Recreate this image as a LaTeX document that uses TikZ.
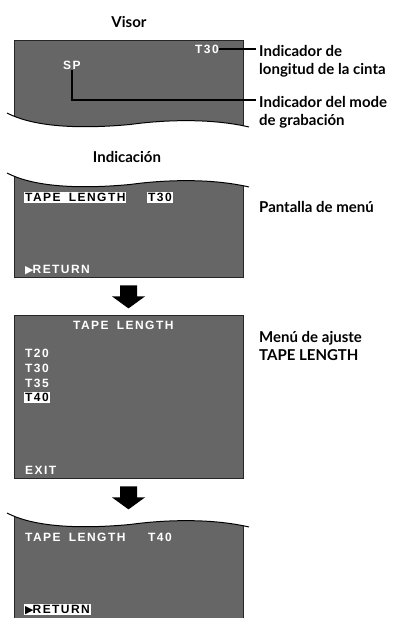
\documentclass[tikz,border=0pt]{standalone}
\usepackage{fontspec}
\setmainfont{Lato}
\newfontfamily\osdfont[LetterSpace=12]{Liberation Sans Bold}
\newfontfamily\symfont{DejaVu Sans}
\definecolor{lcdgray}{RGB}{102,102,102}
% wavy edge of a cut screen, #1 = height of its left end
\newcommand\wavy[1]{(7,#1) .. controls (30,#1+12) and (70,#1+17) .. (130,#1+11.5) .. controls (170,#1+6) and (215,#1+6) .. (249,#1+14)}
\newcommand\tapelen{TAPE\ \hspace{3.5pt}LENGTH}
\newcommand\retmark{{\symfont\fontsize{11}{11}\selectfont▶}\hspace{-1pt}}

\begin{document}
\begin{tikzpicture}[x=1pt,y=-1pt,
    screen/.style={fill=lcdgray,draw=black!85,line width=0.8pt,minimum width=229pt,inner sep=0pt},
    osd/.style={text=white,font=\osdfont\fontsize{12}{12}\selectfont,text height=8.6pt,text depth=0pt,inner sep=0pt,anchor=west},
    osdmark/.style={osd,text=black,fill=white,inner xsep=1pt,inner ysep=1.2pt},
    caption/.style={font=\bfseries\fontsize{15}{18.5}\selectfont,align=left,anchor=north west,inner sep=0pt},
    heading/.style={font=\bfseries\fontsize{15}{15}\selectfont},
    leader/.style={line width=1.3pt},
    waveline/.style={line width=1pt}]
  \useasboundingbox (0,0) rectangle (419,618);

  % screens
  \node[screen,minimum height=90pt] (visor) at (128.5,85) {};
  \node[screen,minimum height=106pt] (menu) at (128.5,224) {};
  \node[screen,minimum height=163pt] (ajuste) at (128.5,396.5) {};
  \node[screen,minimum height=109pt] (final) at (128.5,563.5) {};
  \foreach \w/\e in {113/132, 173/169, 513/508.5}{
    \fill[white] \wavy{\w} -- (250,\e) -- (6,\e) -- cycle;
    \draw[waveline] \wavy{\w};
  }

  % headings
  \node[heading] (visortitle) at (129,21.5) {Visor};
  \node[heading] (indtitle) at (127,157) {Indicación};

  % viewfinder
  \node[osd] (t30v) at (195,49) {T30};
  \node[osd] (spv) at (63,65) {SP};
  \coordinate (lenin) at (256,49);
  \coordinate (modein) at (256,100);
  \draw[leader] (t30v.east) -- (lenin);
  \draw[leader] (spv.south) |- (modein);
  \node[caption] (lenlbl) at (259,45) {Indicador de\\longitud de la cinta};
  \node[caption] (modelbl) at (259,96) {Indicador del mode\\de grabación};

  % menu screen
  \node[osdmark] (menutape) at (24,197.5) {\tapelen};
  \node[osdmark] (menut30) at (147,197.5) {T30};
  \node[osd] (menuret) at (25,269) {\retmark RETURN};
  \node[caption] (menulbl) at (259,201) {Pantalla de menú};

  % setting screen
  \node[osd] (ajustetape) at (73,325) {\tapelen};
  \foreach \t/\y in {20/353, 30/368.5, 35/383}{
    \node[osd] (opt\t) at (25,\y) {T\t};
  }
  \node[osdmark] (opt40) at (24,397.5) {T40};
  \node[osd] (exit) at (25,470) {EXIT};
  \node[caption] (ajustelbl) at (259,331) {Menú de ajuste\\TAPE LENGTH};

  % result screen
  \node[osd] (finaltape) at (25,537) {\tapelen};
  \node[osd] (finalt40) at (148,537) {T40};
  \node[osdmark] (finalret) at (24,609.5) {\retmark RETURN};

  % block arrows between screens
  \foreach \a in {menu, ajuste}{
    \fill (\a.south) ++(-8.5,8) -- ++(17,0) -- ++(0,11) -- ++(8,0) -- ++(-16.5,12)
      -- ++(-16.5,-12) -- ++(8,0) -- cycle;
  }
\end{tikzpicture}
\end{document}
